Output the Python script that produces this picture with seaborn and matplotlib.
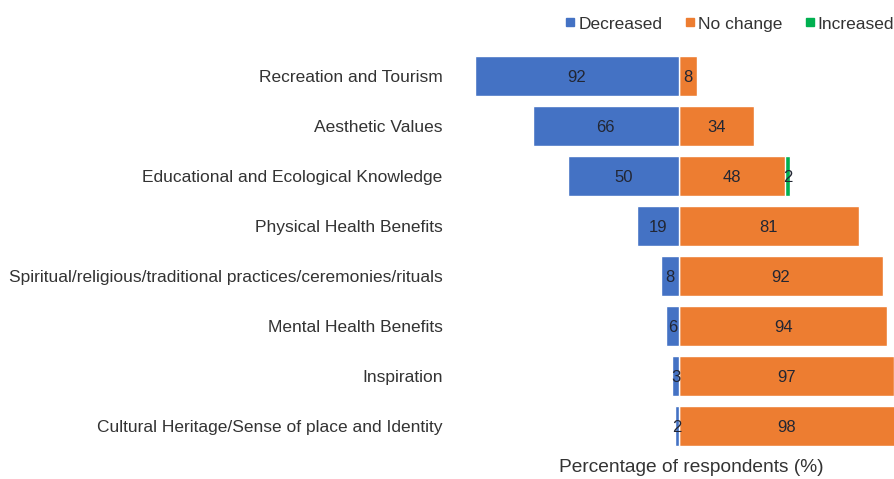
import matplotlib.pyplot as plt
import seaborn as sns
from matplotlib.lines import Line2D
from pandas import DataFrame

categories = [
    "Recreation and Tourism",
    "Aesthetic Values",
    "Educational and Ecological Knowledge",
    "Physical Health Benefits",
    "Spiritual/religious/traditional practices/ceremonies/rituals",
    "Mental Health Benefits",
    "Inspiration",
    "Cultural Heritage/Sense of place and Identity",
]
decreased = [92, 66, 50, 19, 8, 6, 3, 2]
no_change = [8, 34, 48, 81, 92, 94, 97, 98]
increased = [0, 0, 2, 0, 0, 0, 0, 0]

BLUE = "#4472C4"
ORANGE = "#ED7D31"
GREEN = "#00B050"

df = DataFrame(
    {
        "category": categories,
        "decreased": decreased,
        "no_change": no_change,
        "increased": increased,
    }
)
df["neg_decreased"] = -df["decreased"]
df["pos_total"] = df["no_change"] + df["increased"]

sns.set_style("white")
plt.rcParams["font.family"] = ["Liberation Sans", "DejaVu Sans"]

fig = plt.figure(figsize=(8.95, 4.79), dpi=100)
ax = fig.add_axes([455 / 895, 28 / 479, 440 / 895, 400 / 479])

# green total first, orange drawn over it so only the increase shows
sns.barplot(data=df, x="pos_total", y="category", color=GREEN, width=0.8,
            edgecolor="white", linewidth=1, saturation=1, ax=ax)
sns.barplot(data=df, x="no_change", y="category", color=ORANGE, width=0.8,
            edgecolor="white", linewidth=1, saturation=1, ax=ax)
sns.barplot(data=df, x="neg_decreased", y="category", color=BLUE, width=0.8,
            edgecolor="white", linewidth=1, saturation=1, ax=ax)

c_total, c_no, c_dec = ax.containers
texts = ax.bar_label(c_dec, labels=[str(v) for v in decreased],
                     label_type="center", fontsize=12, color="#222633")
texts += ax.bar_label(c_no, labels=[str(v) for v in no_change],
                      label_type="center", fontsize=12, color="#222633")
for t in texts:
    t.set_va("center_baseline")
# label for the increased segment, centred on the green sliver
for i, (n, inc) in enumerate(zip(no_change, increased)):
    if inc:
        ax.text(n + inc / 2, i, str(inc), ha="center", va="center_baseline",
                fontsize=12, color="#222633")

ax.set_xlim(-101, 97.4)
ax.set_ylim(7.5, -0.5)
ax.set_xlabel("")
ax.set_ylabel("")
ax.set_xticks([])
ax.tick_params(axis="y", length=0, pad=9, labelsize=12.5, labelcolor="#333333")
sns.despine(ax=ax, left=True, bottom=True)

fig.text(691 / 895, 1 - 468 / 479, "Percentage of respondents (%)",
         ha="center", va="center", fontsize=13.8, color="#333333")

handles = [
    Line2D([], [], marker="s", linestyle="", color=c, markersize=6)
    for c in (BLUE, ORANGE, GREEN)
]
fig.legend(handles, ["Decreased", "No change", "Increased"], ncol=3,
           loc="center right", bbox_to_anchor=(1.007, 1 - 24 / 479),
           frameon=False, fontsize=12.5, handletextpad=0.05,
           columnspacing=1.2, handlelength=0.8, borderaxespad=0)
for t in fig.legends[0].get_texts():
    t.set_color("#333333")

fig.savefig("out.png", dpi=100)
